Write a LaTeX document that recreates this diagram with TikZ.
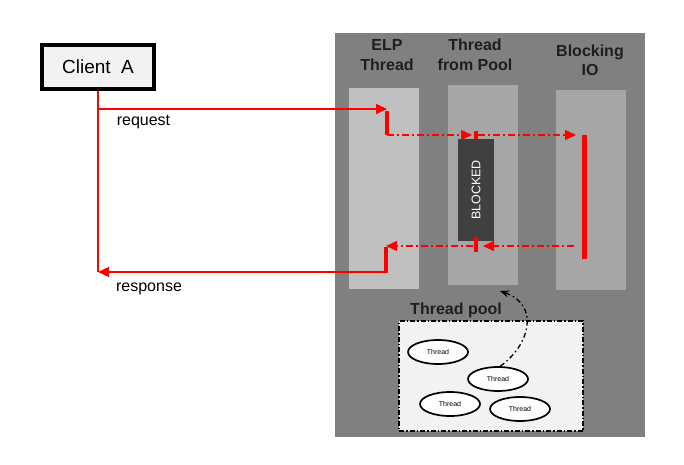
\documentclass[tikz,border=0pt]{standalone}
\usepackage{fontspec}
\setmainfont{Liberation Sans}
\usetikzlibrary{arrows.meta,shapes.geometric}

\definecolor{backgray}{HTML}{808080}
\definecolor{elpgray}{HTML}{C0C0C0}
\definecolor{colgray}{HTML}{A6A6A6}
\definecolor{blockgray}{HTML}{404040}
\definecolor{paleboxgray}{HTML}{F2F2F2}
\definecolor{headtext}{HTML}{1E1E1E}

\tikzset{
	redline/.style={red, line width=1.4pt},
	redbar/.style={red, line width=4pt},
	callline/.style={red, line width=1.4pt, dash pattern=on 7pt off 3pt on 2pt off 3pt},
	redtip/.style={-{Triangle[length=11pt,width=10pt]}},
	column/.style={inner sep=0pt, minimum width=70pt},
	header/.style={align=center, text=headtext, font=\bfseries\fontsize{16}{19.5}\selectfont},
	threadnode/.style={ellipse, draw, line width=1.7pt, fill=white, minimum width=60pt, minimum height=24pt, inner sep=0pt, font=\fontsize{7}{8}\selectfont}
}

\begin{document}
\begin{tikzpicture}[x=1pt,y=-1pt]
	\useasboundingbox (0,0) rectangle (684,464);

	% server side background and columns
	\fill[backgray] (335,33) rectangle (645,437);
	\node[column, fill=elpgray, minimum height=201pt] (elpcol) at (384,188.5) {};
	\node[column, fill=colgray, minimum height=200pt] (poolcol) at (483,185) {};
	\node[column, fill=colgray, minimum height=200pt] (iocol) at (591,190) {};

	\node[header] (elphead) at (387,55) {ELP\\Thread};
	\node[header] (poolhead) at (475,55) {Thread\\from Pool};
	\node[header] (iohead) at (590,60.5) {Blocking\\IO};

	\node[fill=blockgray, minimum width=36pt, minimum height=102pt, inner sep=0pt] (blocked) at (476,190)
		{\rotatebox{90}{\color{white}\fontsize{12.5}{12.5}\selectfont BLOCKED}};

	% client
	\node[draw=black, line width=4pt, fill=paleboxgray, minimum width=112pt, minimum height=44pt] (client) at (98,67)
		{\fontsize{19}{20}\selectfont Client\ \ A};

	\coordinate (req) at (98,109);
	\coordinate (resp) at (98,272);
	\coordinate (elpin) at (387,109);
	\coordinate (elpcall) at (387,135);
	\coordinate (poolin) at (476,135);
	\coordinate (ioin) at (584,135);
	\coordinate (ioout) at (574,246);
	\coordinate (poolout) at (476,246);
	\coordinate (elpback) at (386,246);
	\coordinate (elpout) at (386,272);

	\draw[redline] (client.south) -- (resp);
	\draw[redline, redtip] (req) -- (elpin);
	\draw[redbar] ([yshift=-2pt]elpin) -- (elpcall);
	\draw[callline, redtip] (elpcall) -- ([xshift=-4pt]poolin);
	\draw[redbar] ([yshift=-4pt]poolin) -- ([yshift=4pt]poolin);
	\draw[callline, redtip] ([xshift=2pt]poolin) -- ([xshift=-8pt]ioin);
	\draw[red, line width=5pt] (ioin) -- (584,259);

	\draw[callline, redtip] (ioout) -- ([xshift=7pt]poolout);
	\draw[redbar] ([yshift=-6pt]poolout) -- ([yshift=9pt]poolout);
	\draw[callline, redtip] ([xshift=-3pt]poolout) -- (elpback);
	\draw[redbar] ([yshift=-1pt]elpback) -- (elpout);
	\draw[redline, redtip] ([xshift=2pt]elpout) -- (resp);

	\node[font=\fontsize{16}{17}\selectfont] (reqlabel) at (143.5,122) {request};
	\node[font=\fontsize{16}{17}\selectfont] (resplabel) at (149,289) {response};

	% thread pool
	\node[header] (pooltitle) at (456,310) {Thread pool};
	\node[draw=black, line width=1.3pt, dash pattern=on 5pt off 2pt on 1.5pt off 2pt, fill=paleboxgray,
		minimum width=184pt, minimum height=110pt] (poolbox) at (491,376) {};
	\node[threadnode] (thread1) at (438,352) {Thread};
	\node[threadnode] (thread2) at (498,379) {Thread};
	\node[threadnode] (thread3) at (450,404) {Thread};
	\node[threadnode] (thread4) at (520,409) {Thread};

	\coordinate (picked) at (500,291);
	\draw[line width=1.3pt, dash pattern=on 5pt off 3pt on 1.5pt off 3pt, -{Stealth[length=9pt,width=7pt]}]
		(thread2.80) .. controls (530,345) and (540,305) .. (picked);
\end{tikzpicture}
\end{document}
